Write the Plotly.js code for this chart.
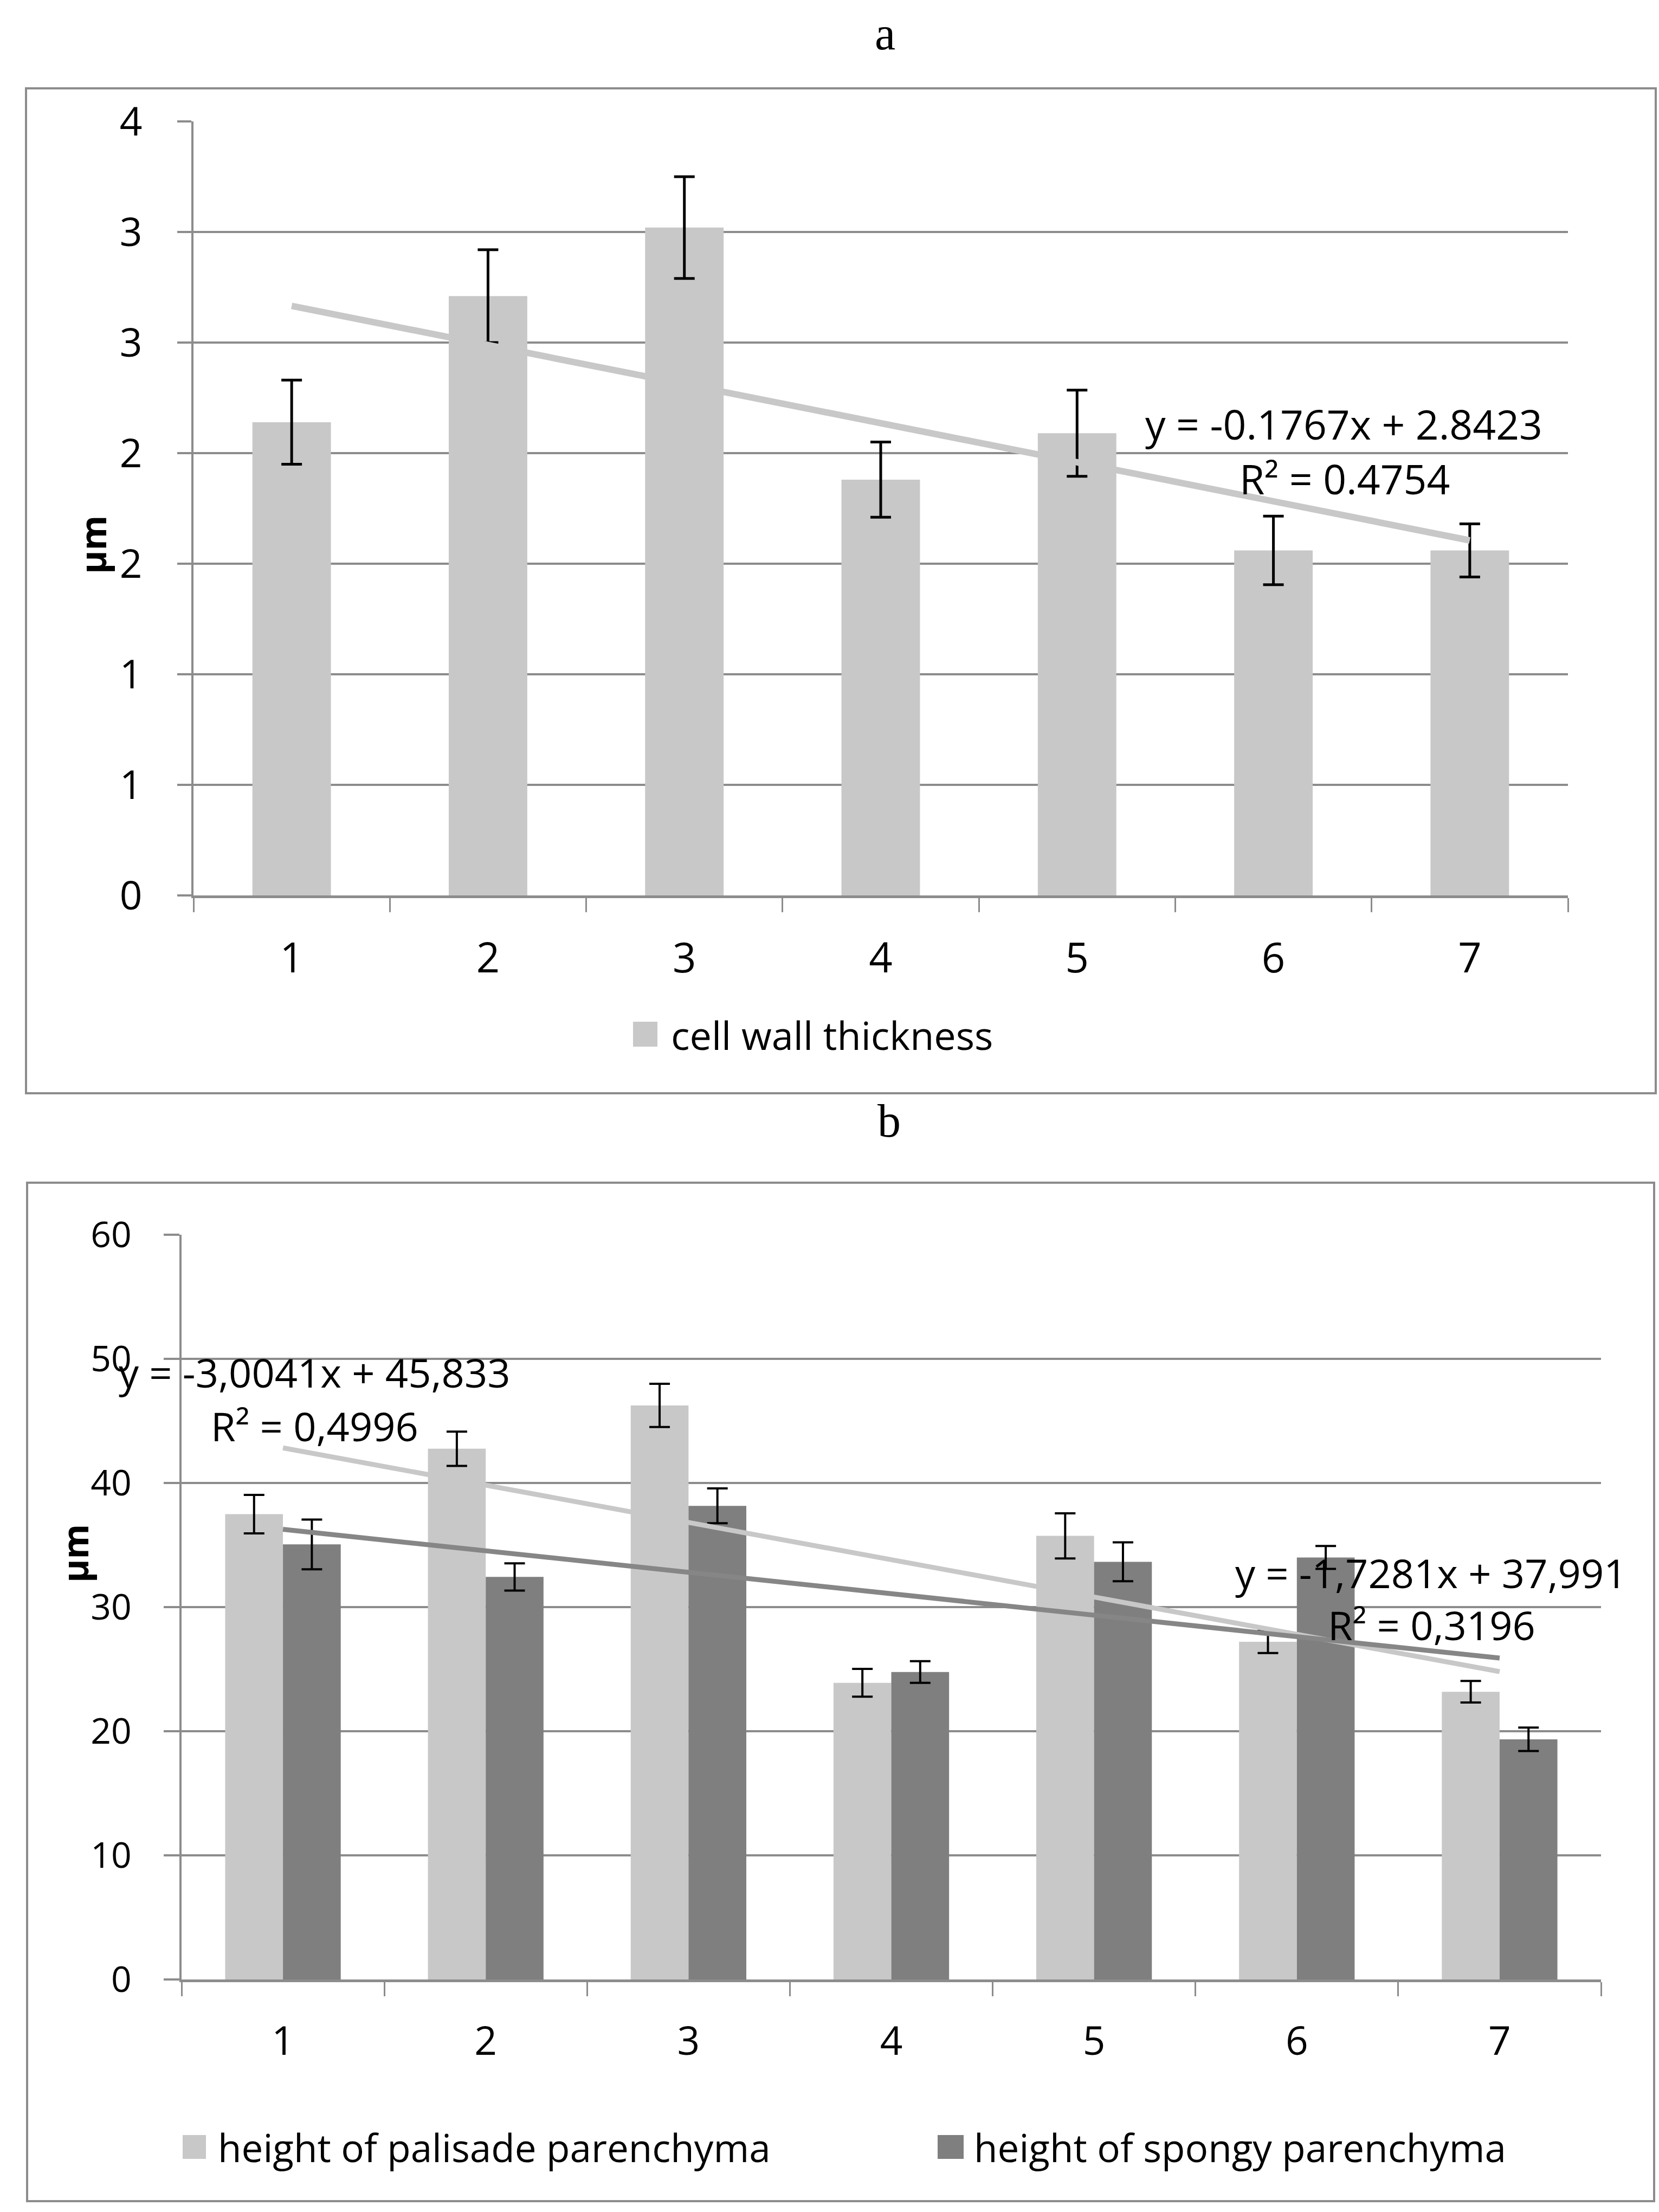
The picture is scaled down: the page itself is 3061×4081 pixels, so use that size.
<!DOCTYPE html>
<html>
<head>
<meta charset="utf-8">
<script src="https://cdn.plot.ly/plotly-3.0.1.min.js"></script>
<style>
    html, body { margin: 0; padding: 0; background: #ffffff; }
    #canvas { width: 3061px; height: 4081px; }
</style>
</head>
<body>
<div id="canvas"></div>
<script>
// page size
const W = 3061;
const H = 4081;

// shared
const samples = ["1", "2", "3", "4", "5", "6", "7"];

// chart a
const wallName = "cell wall thickness";
const wallThickness = [2.14, 2.71, 3.02, 1.88, 2.09, 1.56, 1.56];
const wallErr = [0.19, 0.21, 0.23, 0.17, 0.195, 0.155, 0.12];
const wallTicks = [0, 0.5, 1, 1.5, 2, 2.5, 3, 3.5];
const wallTickText = ["0", "1", "1", "2", "2", "3", "3", "4"];
const wallSlope = -0.1767;
const wallIntercept = 2.8423;
const wallEq = "y = -0.1767x + 2.8423";
const wallR2 = "R² = 0.4754";

// chart b
const palisadeName = "height of palisade parenchyma";
const palisade = [37.49, 42.76, 46.25, 23.9, 35.74, 27.2, 23.18];
const palisadeErr = [1.55, 1.38, 1.74, 1.12, 1.82, 0.9, 0.87];
const palisadeSlope = -3.0041;
const palisadeIntercept = 45.833;
const palisadeEq = "y = -3,0041x + 45,833";
const palisadeR2 = "R² = 0,4996";

const spongyName = "height of spongy parenchyma";
const spongy = [35.05, 32.43, 38.16, 24.77, 33.65, 34.0, 19.35];
const spongyErr = [2.0, 1.1, 1.4, 0.87, 1.57, 0.92, 0.94];
const spongySlope = -1.7281;
const spongyIntercept = 37.991;
const spongyEq = "y = -1,7281x + 37,991";
const spongyR2 = "R² = 0,3196";

const heightTicks = [0, 10, 20, 30, 40, 50, 60];

// colours / fonts
const LIGHT = "#c8c8c8";
const DARK = "#7f7f7f";
const DARK_TREND = "#868686";
const GRID = "#8c8c8c";
const FONT = "Open Sans, Liberation Sans, sans-serif";
const SERIF = "Liberation Serif, DejaVu Serif, serif";

// pixel -> paper helpers
var px = (x) => x / W;
var py = (y) => 1 - y / H;

// trend line ends at first and last sample
function trendLine(slope, intercept) {
    let first = 1;
    let last = samples.length;
    return [slope * first + intercept, slope * last + intercept];
}

var getPlotData = () => [
    {
        type: "bar", x: samples, y: wallThickness, name: wallName,
        xaxis: "x", yaxis: "y", width: 0.4,
        marker: { color: LIGHT },
        error_y: { type: "data", array: wallErr, visible: true, color: "#000", thickness: 5, width: 19 },
    },
    {
        type: "scatter", mode: "lines", x: [samples[0], samples[samples.length - 1]],
        y: trendLine(wallSlope, wallIntercept), xaxis: "x", yaxis: "y",
        line: { color: LIGHT, width: 12 },
    },
    {
        type: "bar", x: samples, y: palisade, name: palisadeName,
        xaxis: "x2", yaxis: "y2", width: 0.285, offset: -0.285,
        marker: { color: LIGHT },
        error_y: { type: "data", array: palisadeErr, visible: true, color: "#000", thickness: 4, width: 19 },
    },
    {
        type: "bar", x: samples, y: spongy, name: spongyName,
        xaxis: "x2", yaxis: "y2", width: 0.285, offset: 0,
        marker: { color: DARK },
        error_y: { type: "data", array: spongyErr, visible: true, color: "#000", thickness: 4, width: 19 },
    },
    {
        type: "scatter", mode: "lines", x: [samples[0], samples[samples.length - 1]],
        y: trendLine(palisadeSlope, palisadeIntercept), xaxis: "x2", yaxis: "y2",
        line: { color: LIGHT, width: 9 },
    },
    {
        type: "scatter", mode: "lines", x: [samples[0], samples[samples.length - 1]],
        y: trendLine(spongySlope, spongyIntercept), xaxis: "x2", yaxis: "y2",
        line: { color: DARK_TREND, width: 9 },
    },
];

function xAxis(domain, anchor, size) {
    return {
        domain: domain, anchor: anchor, type: "category", range: [-0.5, 6.5],
        tickson: "boundaries", ticks: "outside", ticklen: 26, tickwidth: 3, tickcolor: GRID,
        showline: true, linecolor: GRID, linewidth: 5, showgrid: false, zeroline: false,
        tickfont: { family: FONT, size: size, color: "#000" }, ticklabelstandoff: 46,
    };
}

function yAxis(domain, anchor, range, vals, text, size, len, standoff) {
    return {
        domain: domain, anchor: anchor, range: range, tickmode: "array", tickvals: vals, ticktext: text,
        ticks: "outside", ticklen: len, tickwidth: 4, tickcolor: GRID,
        showline: true, linecolor: GRID, linewidth: 4,
        showgrid: true, gridcolor: GRID, gridwidth: 4, zeroline: false,
        tickfont: { family: FONT, size: size, color: "#000" }, ticklabelstandoff: standoff,
    };
}

function label(text, x, y, size, opts) {
    return Object.assign({
        text: text, xref: "paper", yref: "paper", x: px(x), y: py(y),
        xanchor: "center", yanchor: "middle", showarrow: false,
        font: { family: FONT, size: size, color: "#000" },
    }, opts || {});
}

function box(x0, y0, x1, y1, color, fill) {
    return {
        type: "rect", xref: "paper", yref: "paper", layer: "below",
        x0: px(x0), x1: px(x1), y0: py(y1), y1: py(y0),
        line: { color: color, width: fill ? 0 : 4 }, fillcolor: fill || "rgba(0,0,0,0)",
    };
}

var getPlotLayout = () => ({
    width: W, height: H,
    margin: { l: 0, r: 0, t: 0, b: 0 },
    paper_bgcolor: "#ffffff", plot_bgcolor: "rgba(0,0,0,0)",
    showlegend: false, barmode: "overlay",
    xaxis: xAxis([px(357), px(2893)], "y", 76),
    yaxis: yAxis([py(1652), py(224)], "x", [0, 3.5], wallTicks, wallTickText, 73, 26, 50),
    xaxis2: xAxis([px(335), px(2954)], "y2", 73),
    yaxis2: yAxis([py(3652), py(2278)], "x2", [0, 60], heightTicks, heightTicks.map(String), 66, 29, 46),
    shapes: [
        box(48, 163, 3055, 2017, GRID),
        box(50, 2182, 3052, 4061, GRID),
        // legend swatches
        box(1168, 1885, 1213, 1931, null, LIGHT),
        box(337, 3939, 380, 3983, null, LIGHT),
        box(1730, 3939, 1778, 3983, null, DARK),
    ],
    annotations: [
        label("a", 1633, 62, 86, { font: { family: SERIF, size: 86, color: "#000" } }),
        label("b", 1640, 2068, 86, { font: { family: SERIF, size: 86, color: "#000" } }),
        label("<b>µm</b>", 170, 1005, 66, { textangle: -90 }),
        label("<b>µm</b>", 137, 2866, 66, { textangle: -90 }),
        label(wallEq, 2479, 782, 75),
        label(wallR2, 2481, 883, 75),
        label(palisadeEq, 580, 2531, 74),
        label(palisadeR2, 580, 2630, 74),
        label(spongyEq, 2640, 2901, 74),
        label(spongyR2, 2641, 2997, 74),
        label(wallName, 1236, 1909, 72, { xanchor: "left" }),
        label(palisadeName, 400, 3961, 71, { xanchor: "left" }),
        label(spongyName, 1795, 3961, 71, { xanchor: "left" }),
    ],
});

Plotly.newPlot("canvas", getPlotData(), getPlotLayout(), { staticPlot: true, displayModeBar: false });
</script>
</body>
</html>
